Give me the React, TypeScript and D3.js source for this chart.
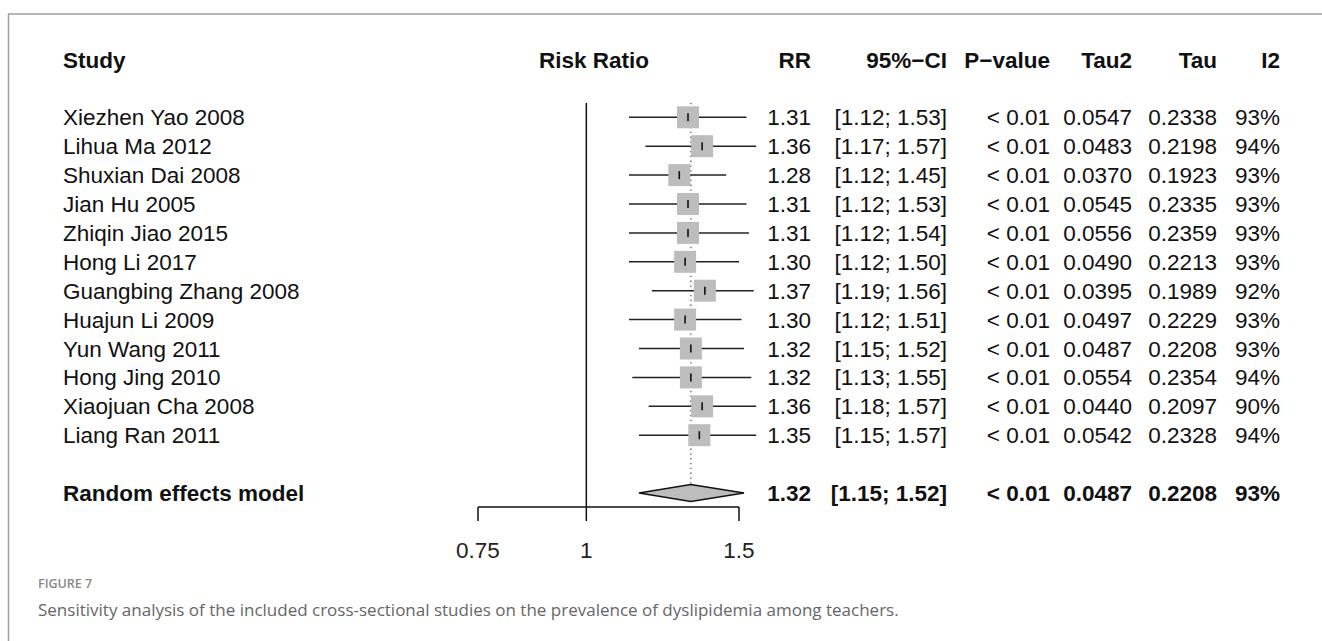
import React, { useEffect, useRef } from 'react';
import * as d3 from 'd3';

const studies = [
  'Xiezhen Yao 2008', 'Lihua Ma 2012', 'Shuxian Dai 2008', 'Jian Hu 2005',
  'Zhiqin Jiao 2015', 'Hong Li 2017', 'Guangbing Zhang 2008', 'Huajun Li 2009',
  'Yun Wang 2011', 'Hong Jing 2010', 'Xiaojuan Cha 2008', 'Liang Ran 2011'
];
const rr = [1.31, 1.36, 1.28, 1.31, 1.31, 1.30, 1.37, 1.30, 1.32, 1.32, 1.36, 1.35];
const lower = [1.12, 1.17, 1.12, 1.12, 1.12, 1.12, 1.19, 1.12, 1.15, 1.13, 1.18, 1.15];
const upper = [1.53, 1.57, 1.45, 1.53, 1.54, 1.50, 1.56, 1.51, 1.52, 1.55, 1.57, 1.57];
const pValues = ['< 0.01', '< 0.01', '< 0.01', '< 0.01', '< 0.01', '< 0.01', '< 0.01', '< 0.01', '< 0.01', '< 0.01', '< 0.01', '< 0.01'];
const tau2 = ['0.0547', '0.0483', '0.0370', '0.0545', '0.0556', '0.0490', '0.0395', '0.0497', '0.0487', '0.0554', '0.0440', '0.0542'];
const tau = ['0.2338', '0.2198', '0.1923', '0.2335', '0.2359', '0.2213', '0.1989', '0.2229', '0.2208', '0.2354', '0.2097', '0.2328'];
const i2 = [93, 94, 93, 93, 93, 93, 92, 93, 93, 94, 90, 94];

const pooled = { label: 'Random effects model', rr: 1.32, lower: 1.15, upper: 1.52, p: '< 0.01', tau2: '0.0487', tau: '0.2208', i2: 93 };

const headers = ['RR', '95%\u2212CI', 'P\u2212value', 'Tau2', 'Tau', 'I2'];
const axisTicks = [0.75, 1, 1.5];

const FONT = '"Liberation Sans", Arial, Helvetica, sans-serif';
const CAPTION_FONT = '"Open Sans", Lato, sans-serif';

function App() {
  const ref = useRef<SVGSVGElement>(null);

  useEffect(() => {
    const svg = d3.select(ref.current);
    svg.selectAll('*').remove();

    const x = d3.scaleLog().domain([0.75, 1.5]).range([478, 739]);
    // row index -> y (header at -2, pooled row at 13)
    const y = d3.scaleLinear().domain([0, 13]).range([117.3, 493]);
    const fs = 22.5;
    const colRight = [811, 947, 1050, 1132, 1217, 1280];

    // frame
    svg.append('path')
      .attr('d', 'M8.5,641 L8.5,14 L1322,14')
      .attr('fill', 'none')
      .attr('stroke', '#a0a0a0')
      .attr('stroke-width', 1.5);

    const g = svg.append('g').attr('font-family', FONT).attr('font-size', fs).attr('fill', '#111');

    // headers
    const hy = y(-2) + 8;
    g.append('text').attr('x', 63).attr('y', hy).attr('font-weight', 'bold').text('Study');
    g.append('text').attr('x', 594).attr('y', hy).attr('font-weight', 'bold').attr('text-anchor', 'middle').text('Risk Ratio');
    headers.forEach((h, i) => {
      g.append('text').attr('x', colRight[i]).attr('y', hy).attr('font-weight', 'bold')
        .attr('text-anchor', 'end').text(h);
    });

    // reference line at 1
    g.append('line')
      .attr('x1', x(1)).attr('x2', x(1))
      .attr('y1', 103).attr('y2', 507)
      .attr('stroke', '#111').attr('stroke-width', 1.5);

    // pooled estimate dotted line
    g.append('line')
      .attr('x1', x(pooled.rr)).attr('x2', x(pooled.rr))
      .attr('y1', 103).attr('y2', y(13) - 8.5)
      .attr('stroke', '#555').attr('stroke-width', 1.3)
      .attr('stroke-dasharray', '1.3,3.5');

    // study rows
    const rows = g.selectAll('g.row').data(studies).enter().append('g').attr('class', 'row');

    rows.append('line')
      .attr('x1', (d, i) => x(lower[i])).attr('x2', (d, i) => x(upper[i]))
      .attr('y1', (d, i) => y(i)).attr('y2', (d, i) => y(i))
      .attr('stroke', '#222').attr('stroke-width', 1.5);

    rows.append('rect')
      .attr('x', (d, i) => x(rr[i]) - 11).attr('y', (d, i) => y(i) - 11)
      .attr('width', 22).attr('height', 22)
      .attr('fill', '#bdbdbd');

    rows.append('line')
      .attr('x1', (d, i) => x(rr[i])).attr('x2', (d, i) => x(rr[i]))
      .attr('y1', (d, i) => y(i) - 4).attr('y2', (d, i) => y(i) + 4)
      .attr('stroke', '#111').attr('stroke-width', 1.6);

    rows.append('text').attr('x', 63).attr('y', (d, i) => y(i) + 8).text(d => d);

    const cells = (i: number) => [
      rr[i].toFixed(2),
      '[' + lower[i].toFixed(2) + '; ' + upper[i].toFixed(2) + ']',
      pValues[i], tau2[i], tau[i], i2[i] + '%'
    ];
    studies.forEach((s, i) => {
      cells(i).forEach((c, j) => {
        g.append('text').attr('x', colRight[j]).attr('y', y(i) + 8)
          .attr('text-anchor', 'end').text(c);
      });
    });

    // pooled row
    const py = y(13);
    g.append('path')
      .attr('d', `M${x(pooled.lower)},${py} L${x(pooled.rr)},${py - 8.5} L${x(pooled.upper)},${py} L${x(pooled.rr)},${py + 8.5} Z`)
      .attr('fill', '#bdbdbd').attr('stroke', '#111').attr('stroke-width', 1.5);
    g.append('text').attr('x', 63).attr('y', py + 8).attr('font-weight', 'bold').text(pooled.label);
    [
      pooled.rr.toFixed(2),
      '[' + pooled.lower.toFixed(2) + '; ' + pooled.upper.toFixed(2) + ']',
      pooled.p, pooled.tau2, pooled.tau, pooled.i2 + '%'
    ].forEach((c, j) => {
      g.append('text').attr('x', colRight[j]).attr('y', py + 8)
        .attr('font-weight', 'bold').attr('text-anchor', 'end').text(c);
    });

    // x axis
    const axisY = 507;
    g.append('line')
      .attr('x1', x(0.75)).attr('x2', x(1.5))
      .attr('y1', axisY).attr('y2', axisY)
      .attr('stroke', '#111').attr('stroke-width', 1.5);
    axisTicks.forEach(t => {
      g.append('line')
        .attr('x1', x(t)).attr('x2', x(t))
        .attr('y1', axisY).attr('y2', axisY + 14)
        .attr('stroke', '#111').attr('stroke-width', 1.5);
      g.append('text').attr('x', x(t)).attr('y', 558)
        .attr('text-anchor', 'middle').attr('fill', '#222').text(String(t));
    });

    // caption
    svg.append('text').attr('x', 38).attr('y', 588)
      .attr('font-family', CAPTION_FONT).attr('font-size', 12.5)
      .attr('font-weight', 600).attr('fill', '#888').text('FIGURE 7');
    svg.append('text').attr('x', 38).attr('y', 616)
      .attr('font-family', CAPTION_FONT).attr('font-size', 17)
      .attr('fill', '#666')
      .text('Sensitivity analysis of the included cross-sectional studies on the prevalence of dyslipidemia among teachers.');
  }, []);

  return (
    <svg ref={ref} width={1322} height={641}
      style={{ position: 'absolute', left: 0, top: 0, background: '#fff' }} />
  );
}

export default App;
